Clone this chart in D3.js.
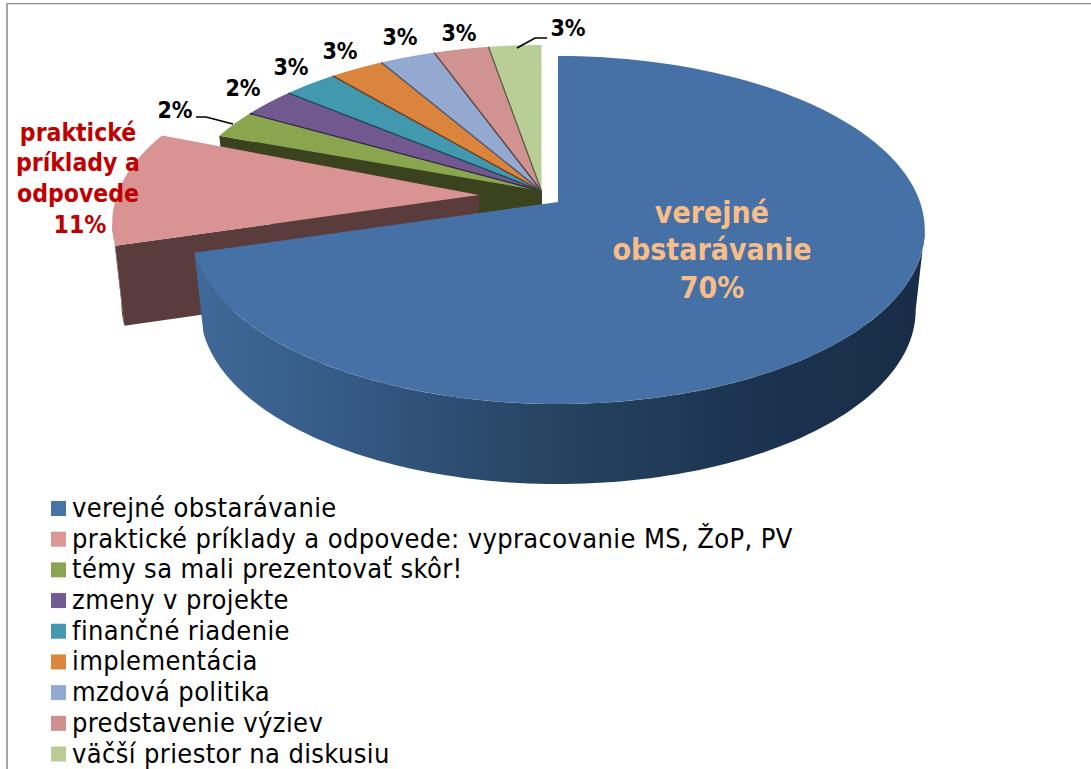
<!DOCTYPE html>
<html lang="sk">
<head>
<meta charset="utf-8">
<script src="https://cdn.jsdelivr.net/npm/d3@7"></script>
<style>
html,body{margin:0;padding:0;background:#fff;overflow:hidden}
svg{display:block}
text{font-family:"DejaVu Sans";font-stretch:condensed}
</style>
</head>
<body>
<svg id="chart" width="1091" height="769"></svg>
<script>
// ---- data ----
const categories = ["verejné obstarávanie","praktické príklady a odpovede: vypracovanie MS, ŽoP, PV","témy sa mali prezentovať skôr!","zmeny v projekte","finančné riadenie","implementácia","mzdová politika","predstavenie výziev","väčší priestor na diskusiu"];
const shares = [70.4, 10.2, 2.64, 2.78, 2.8, 2.8, 2.86, 2.83, 2.72];
const printedPercents = ["70%","11%","2%","2%","3%","3%","3%","3%","3%"];
const topColors = ["#4671a6","#d89392","#89a54e","#71588f","#4198af","#db843d","#93a9cf","#d19392","#b9cd96"];
const swatchColors = ["#4674a8","#db9896","#8ba650","#745a93","#4499b1","#db853d","#94a9d1","#cf9190","#b9cc95"];
const wallColors = ["#26425f","#5a3c3c","#3a431e","#2f2547","#1f4a57","#6b3d1a","#44516b","#5a3f3f","#565f42"];

// ---- layout ----
const svg = d3.select("#chart");
const K = 0.161, RISE = 80;
const PINK_EXTRA = 1.8 * Math.PI / 180;
const explode = i => i === 0 ? [558,202] : i === 1 ? [479,195] : [541.5,191];
const xTop = d3.scaleLinear().domain([-1,1]).range([-362,362]);
const xBot = d3.scaleLinear().domain([-1,1]).range([-353,353]);
const yAll = d3.scaleLinear().domain([-1,1]).range([-169.5,169.5]);
const TANGENT = Math.acos(-K);          // right silhouette of the rim
const TANGENT_L = 2*Math.PI - TANGENT;  // left silhouette of the rim

const pie = d3.pie().sort(null).value(d => d)(shares);

function project(i, angle, r, floor) {
  const [ax, ay] = explode(i);
  const X = r*Math.sin(angle), Y = -r*Math.cos(angle), w = 1 - K*Y;
  const sx = floor ? xBot : xTop;
  return [ax + sx(X/w), ay + yAll(Y/w) + (floor ? RISE : 0)];
}
const line = d3.line();
const sweep = (a0, a1) => d3.range(0, 121).map(t => a0 + (a1-a0)*t/120);
const topPts = (i, a0, a1) => [project(i,a0,0,false), ...sweep(a0,a1).map(a => project(i,a,1,false))];
const facePts = (i, a) => [project(i,a,0,false), project(i,a,1,false), project(i,a,1,true), project(i,a,0,true)];
const rimPts = (i, a0, a1) => [...sweep(a0,a1).map(a => project(i,a,1,false)), ...sweep(a0,a1).reverse().map(a => project(i,a,1,true))];

// gradient on the big wall
const grad = svg.append("defs").append("linearGradient").attr("id","wall")
  .attr("gradientUnits","userSpaceOnUse").attr("x1",199).attr("x2",925).attr("y1",0).attr("y2",0);
[[0,"#3f6998"],[0.2,"#355a85"],[0.5,"#26425f"],[0.75,"#1c3451"],[1,"#182c46"]]
  .forEach(s => grad.append("stop").attr("offset",s[0]).attr("stop-color",s[1]));

// frame
svg.append("line").attr("x1",7).attr("x2",1091).attr("y1",3.5).attr("y2",3.5).attr("stroke","#8c8c8c").attr("stroke-width",1.2);
svg.append("line").attr("x1",7).attr("x2",1091).attr("y1",4.6).attr("y2",4.6).attr("stroke","#e6e6e6").attr("stroke-width",1);
svg.append("line").attr("x1",7).attr("x2",7).attr("y1",3).attr("y2",769).attr("stroke","#a6a6a6").attr("stroke-width",2);

// small slices: walls back to front, then tops, then hairlines
const small = pie.map((d,i) => ({d,i})).filter(o => o.i >= 2);
svg.append("g").selectAll("path").data(small.slice().reverse()).join("path")
  .attr("d", o => line(facePts(o.i, o.d.startAngle))+"Z").attr("fill", o => wallColors[o.i]);
svg.append("g").selectAll("path").data(small).join("path")
  .attr("d", o => line(topPts(o.i, o.d.startAngle, o.d.endAngle))+"Z").attr("fill", o => topColors[o.i]);
svg.append("g").selectAll("path").data(small.slice(1)).join("path")
  .attr("d", o => line([project(o.i,o.d.startAngle,0,false), project(o.i,o.d.startAngle,1,false)]))
  .attr("fill","none").attr("stroke", o => wallColors[o.i]).attr("stroke-width",1.3);

// exploded pink slice
const pink = pie[1];
svg.append("path").attr("d", line(rimPts(1,pink.startAngle,TANGENT_L))+"Z").attr("fill",wallColors[1]);
svg.append("path").attr("d", line(facePts(1,pink.startAngle))+"Z").attr("fill",wallColors[1]);
svg.append("path").attr("d", line(topPts(1,pink.startAngle,pink.endAngle+PINK_EXTRA))+"Z").attr("fill",topColors[1]);

// big blue slice
const blue = pie[0];
svg.append("path").attr("d", line(rimPts(0,TANGENT,blue.endAngle))+"Z").attr("fill","url(#wall)");
svg.append("path").attr("d", line(topPts(0,blue.startAngle,blue.endAngle))+"Z").attr("fill",topColors[0]);

// inside labels
const multi = (lines, cxs, ys, size, fill) => {
  svg.append("g").selectAll("text").data(lines).join("text")
    .attr("x",(d,i)=>cxs[i]).attr("y",(d,i)=>ys[i]).attr("text-anchor","middle")
    .attr("font-size",size).attr("font-weight","bold").attr("fill",fill).text(d=>d);
};
multi(["verejné","obstarávanie",printedPercents[0]], [712,712,712], [223,260,298], 30, "#f9bd8a");
multi(["praktické","príklady a","odpovede",printedPercents[1]], [78,78,78,80], [141,171,202,233], 24.5, "#c00000");

// outer percent labels
const outer = printedPercents.slice(2);
const outerX = [175,243,291,340,400,459,568];
const outerY = [118,96,75,59,45,41,36];
svg.append("g").selectAll("text").data(outer).join("text")
  .attr("x",(d,i)=>outerX[i]).attr("y",(d,i)=>outerY[i]).attr("text-anchor","middle")
  .attr("font-size",23).attr("font-weight","bold").attr("fill","#000").text(d=>d);

// leader lines
[[[196,117],[206,117],[233,124]],[[517,48],[535,38],[547,38]]].forEach(p =>
  svg.append("path").attr("d",line(p)).attr("fill","none").attr("stroke","#000").attr("stroke-width",1.7));

// legend
const legendY = d3.scalePoint().domain(categories).range([509,754.5]);
const leg = svg.append("g").selectAll("g").data(categories).join("g");
leg.append("rect").attr("x",51).attr("y",d=>legendY(d)-8).attr("width",15).attr("height",15)
  .attr("fill",(d,i)=>swatchColors[i]);
leg.append("text").attr("x",72).attr("y",d=>legendY(d)+8).attr("font-size",27).attr("letter-spacing",0.38).attr("fill","#000").text(d=>d);
</script>
</body>
</html>
